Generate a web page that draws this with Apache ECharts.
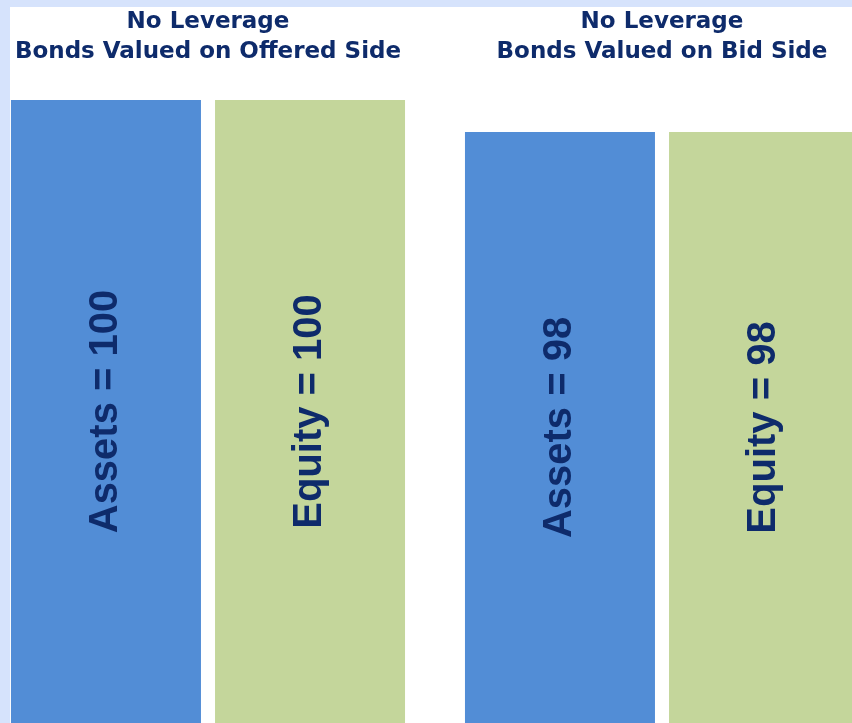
<!DOCTYPE html>
<html>
<head>
<meta charset="utf-8">
<script src="https://cdn.jsdelivr.net/npm/echarts@6/dist/echarts.min.js"></script>
<style>
html,body{margin:0;padding:0;background:#D6E3FC;}
#chart{width:852px;height:723px;}
</style>
</head>
<body>
<div id="chart"></div>
<script>
var categories = ['No Leverage\nBonds Valued on Offered Side', 'No Leverage\nBonds Valued on Bid Side'];
var assets = [100, 98];
var equity = [100, 98];
var seriesNames = ['Assets', 'Equity'];

var navy = '#0e2b6b';
var chart = echarts.init(document.getElementById('chart'));
var W = 852, H = 723;
var gridLeft = -19, gridWidth = 908;
var catW = gridWidth / categories.length;

var titles = categories.map(function (c, i) {
  return {
    text: c,
    left: gridLeft + catW * (i + 0.5),
    textAlign: 'center',
    top: 7,
    padding: 0,
    textStyle: {
      fontFamily: 'DejaVu Sans',
      fontWeight: 'bold',
      fontSize: 23,
      lineHeight: 30,
      color: navy
    }
  };
});

function labelCfg(name) {
  return {
    show: true,
    position: 'inside',
    rotate: 90,
    formatter: function (p) { return name + ' = ' + p.value; },
    fontFamily: 'Liberation Sans',
    fontWeight: 'bold',
    fontSize: 40,
    color: navy
  };
}

chart.setOption({
  backgroundColor: '#D6E3FC',
  animation: false,
  title: titles,
  graphic: [{
    type: 'rect',
    z: -1,
    shape: { x: 10, y: 7, width: W - 10, height: H - 7 },
    style: { fill: '#ffffff' },
    silent: true
  }],
  grid: {
    left: gridLeft, width: gridWidth, top: 100, bottom: 0,
    containLabel: false, outerBoundsMode: 'none'
  },
  xAxis: {
    type: 'category',
    data: categories,
    show: false
  },
  yAxis: {
    type: 'value',
    min: 61,
    max: 100,
    show: false
  },
  series: [
    {
      name: seriesNames[0],
      type: 'bar',
      data: assets,
      barWidth: 190,
      barGap: '7.4%',
      itemStyle: { color: '#528DD6' },
      label: labelCfg(seriesNames[0])
    },
    {
      name: seriesNames[1],
      type: 'bar',
      data: equity,
      barWidth: 190,
      barGap: '7.4%',
      itemStyle: { color: '#C4D69B' },
      label: labelCfg(seriesNames[1])
    }
  ]
});
</script>
</body>
</html>
